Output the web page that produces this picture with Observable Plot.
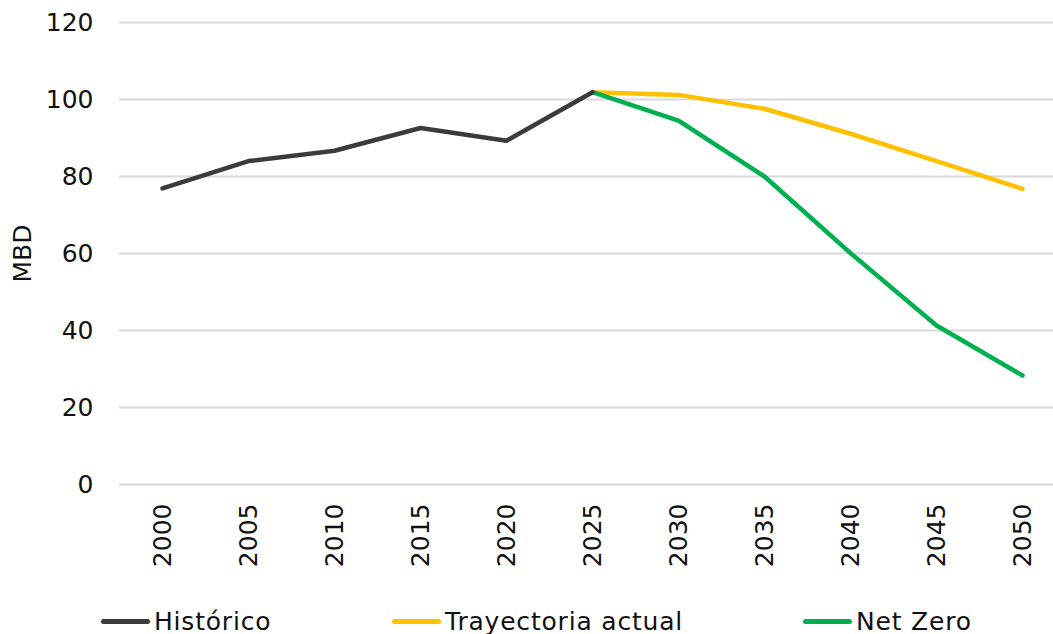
<!DOCTYPE html>
<html>
<head>
<meta charset="utf-8">
<script src="https://cdn.jsdelivr.net/npm/d3@7"></script>
<script src="https://cdn.jsdelivr.net/npm/@observablehq/plot@0.6"></script>
<style>
  html, body { margin: 0; padding: 0; background: #fff; }
  #wrap { width: 1053px; height: 634px; position: relative; overflow: hidden; font-family: "DejaVu Sans", Verdana, sans-serif; }
  #legend { position: absolute; left: 0; top: 600px; width: 1053px; height: 34px; }
  .item { position: absolute; top: 0; height: 42px; display: flex; align-items: center; font-size: 25px; letter-spacing: 0.8px; color: #111; white-space: nowrap; }
  .swatch { display: inline-block; width: 49px; height: 5px; border-radius: 3px; margin-right: 4px; }
</style>
</head>
<body>
<div id="wrap"><div id="chart"></div><div id="legend"></div></div>
<script>
const yearsHist = [2000, 2005, 2010, 2015, 2020, 2025];
const historico = [76.9, 84.0, 86.7, 92.6, 89.3, 101.9];
const yearsProj = [2025, 2030, 2035, 2040, 2045, 2050];
const trayectoria = [101.9, 101.2, 97.6, 91.1, 84.0, 76.8];
const netZero = [101.9, 94.5, 80.0, 60.1, 41.3, 28.3];
const allYears = [2000, 2005, 2010, 2015, 2020, 2025, 2030, 2035, 2040, 2045, 2050];
const yTicks = [0, 20, 40, 60, 80, 100, 120];
const seriesNames = ["Histórico", "Trayectoria actual", "Net Zero"];
const seriesColors = ["#3b3b3b", "#FFC000", "#00B050"];
const legendLineX = [101, 392, 803];
const yLabel = "MBD";

const rows = [];
yearsHist.forEach((y, i) => rows.push({serie: seriesNames[0], year: y, value: historico[i]}));
yearsProj.forEach((y, i) => rows.push({serie: seriesNames[1], year: y, value: trayectoria[i]}));
yearsProj.forEach((y, i) => rows.push({serie: seriesNames[2], year: y, value: netZero[i]}));

const drawOrder = [seriesNames[1], seriesNames[2], seriesNames[0]];

const chart = Plot.plot({
  width: 1053,
  height: 600,
  marginTop: 22,
  marginBottom: 116,
  marginLeft: 119,
  marginRight: 0,
  style: {fontFamily: "DejaVu Sans, Verdana, sans-serif", fontSize: "25px", color: "#111", background: "#fff"},
  x: {type: "point", domain: allYears, range: [162, 1022], padding: 0},
  y: {domain: [0, 120]},
  color: {domain: seriesNames, range: seriesColors},
  marks: [
    Plot.gridY(yTicks, {stroke: "#d9d9d9", strokeOpacity: 1, strokeWidth: 2}),
    Plot.axisY(yTicks, {tickSize: 0, tickPadding: 26, label: null, fontSize: 25, fill: "#111"}),
    Plot.axisX(allYears, {tickSize: 0, tickPadding: 19, tickRotate: -90, label: null, fontSize: 25, fill: "#111", tickFormat: d => String(d)}),
    Plot.text([yLabel], {frameAnchor: "left", textAnchor: "middle", dx: -97, rotate: -90, fontSize: 25, fill: "#111"}),
    ...drawOrder.map(s => Plot.line(rows.filter(r => r.serie === s), {
      x: "year", y: "value", stroke: "serie", strokeWidth: 4.5,
      strokeLinecap: "round", strokeLinejoin: "round"
    }))
  ]
});
document.getElementById("chart").appendChild(chart);

const legend = document.getElementById("legend");
seriesNames.forEach((name, i) => {
  const item = document.createElement("div");
  item.className = "item";
  item.style.left = legendLineX[i] + "px";
  const sw = document.createElement("span");
  sw.className = "swatch";
  sw.style.background = seriesColors[i];
  const tx = document.createElement("span");
  tx.textContent = name;
  item.appendChild(sw);
  item.appendChild(tx);
  legend.appendChild(item);
});
</script>
</body>
</html>
